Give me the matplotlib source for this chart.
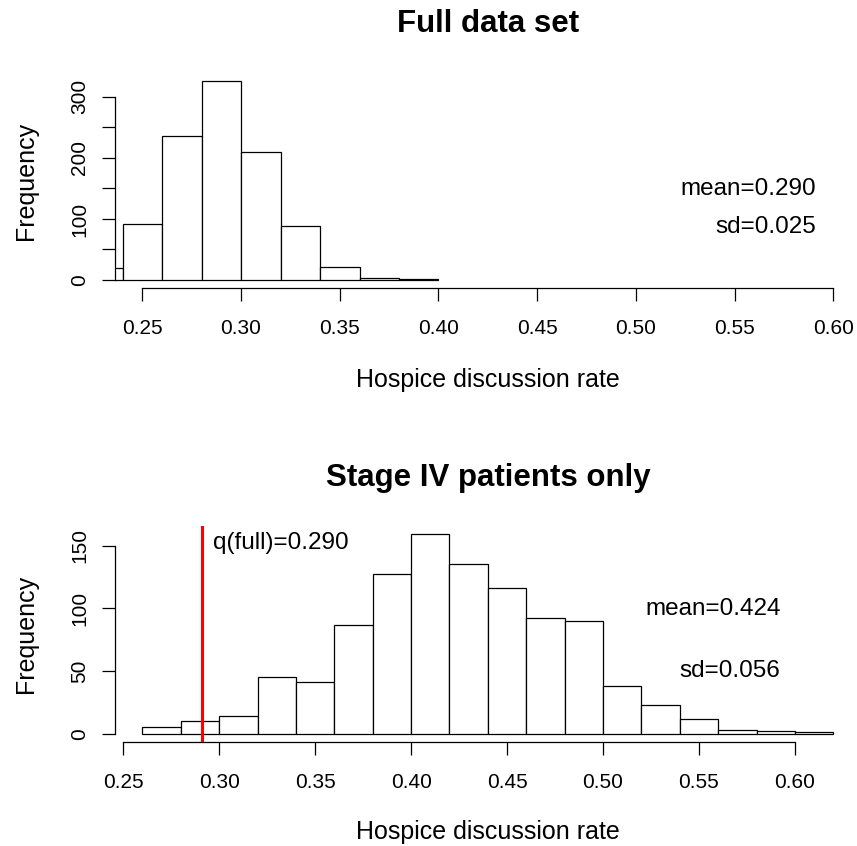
import matplotlib
matplotlib.use("Agg")
import matplotlib.pyplot as plt
import numpy as np

plt.rcParams['font.family'] = ['Liberation Sans', 'DejaVu Sans']

# ---- data ----
full_edges = [0.22, 0.24, 0.26, 0.28, 0.30, 0.32, 0.34, 0.36, 0.38, 0.40]
full_counts = [19, 92, 236, 326, 209, 88, 21, 4, 1]
full_mean = "mean=0.290"
full_sd = "sd=0.025"

stage_edges = [0.26, 0.28, 0.30, 0.32, 0.34, 0.36, 0.38, 0.40, 0.42, 0.44,
               0.46, 0.48, 0.50, 0.52, 0.54, 0.56, 0.58, 0.60, 0.62]
stage_counts = [5, 10, 14, 45, 41, 87, 127, 159, 135, 116, 92, 90, 38, 23, 12, 3, 2, 1]
stage_mean = "mean=0.424"
stage_sd = "sd=0.056"
q_full = 0.291
q_label = "q(full)=0.290"

x_ticks = [0.25, 0.30, 0.35, 0.40, 0.45, 0.50, 0.55, 0.60]
x_ticklabels = ["0.25", "0.30", "0.35", "0.40", "0.45", "0.50", "0.55", "0.60"]

W, H = 857, 846
fig = plt.figure(figsize=(W / 100, H / 100), dpi=100)

FS = 15      # tick labels
FL = 18      # axis labels
FA = 17.5    # annotations
FT = 22.5    # titles
LW = 0.9

def px_box(x0, y0, x1, y1):
    return [x0 / W, 1 - y1 / H, (x1 - x0) / W, (y1 - y0) / H]

def setup(ax, xlim, ylim, yticks, ylabels, ybound):
    ax.set_xlim(*xlim)
    ax.set_ylim(*ylim)
    for s in ['top', 'right']:
        ax.spines[s].set_visible(False)
    ax.spines['left'].set_bounds(*ybound)
    ax.spines['bottom'].set_bounds(0.25, 0.60)
    for s in ['left', 'bottom']:
        ax.spines[s].set_linewidth(LW)
    ax.set_xticks(x_ticks)
    ax.set_xticklabels(x_ticklabels)
    ax.set_yticks(yticks)
    ax.set_yticklabels(ylabels, rotation=90, va='center')
    ax.tick_params(axis='both', direction='out', length=9.5, width=LW,
                   labelsize=FS)
    ax.tick_params(axis='x', pad=13)
    ax.tick_params(axis='y', pad=9)
    ax.patch.set_visible(False)

def hist(ax, edges, counts):
    edges = np.asarray(edges)
    ax.bar(edges[:-1], counts, width=np.diff(edges), align='edge',
           facecolor='white', edgecolor='black', linewidth=LW, zorder=2)

# ---- top panel ----
ax1 = fig.add_axes(px_box(114.7, 72.9, 861, 288))
hist(ax1, full_edges, full_counts)
setup(ax1, (0.236, 0.614), (-13.04, 339.04),
      [0, 50, 100, 150, 200, 250, 300], ["0", "", "100", "", "200", "", "300"], (0, 300))
ax1.text(0.5911, 139.1, full_mean, ha='right', va='baseline', fontsize=FA)
ax1.text(0.5911, 76.4, full_sd, ha='right', va='baseline', fontsize=FA)

# ---- bottom panel ----
ax2 = fig.add_axes(px_box(114.7, 526.4, 861, 741.7))
hist(ax2, stage_edges, stage_counts)
setup(ax2, (0.2456, 0.6344), (-6.36, 165.36),
      [0, 50, 100, 150], ["0", "50", "100", "150"], (0, 150))
ax2.axvline(q_full, color='#ff0000', lw=2.2, zorder=3)
ax2.text(0.2966, 147.4, q_label, ha='left', va='baseline', fontsize=FA)
ax2.text(0.5925, 94.7, stage_mean, ha='right', va='baseline', fontsize=FA)
ax2.text(0.5925, 45.5, stage_sd, ha='right', va='baseline', fontsize=FA)

# ---- titles and axis labels ----
cx = 488 / W
fig.text(cx, 1 - 32.3 / H, "Full data set", ha='center', va='baseline',
         fontsize=FT, fontweight='bold')
fig.text(cx, 1 - 485.8 / H, "Stage IV patients only", ha='center', va='baseline',
         fontsize=FT, fontweight='bold')
fig.text(cx, 1 - 386.7 / H, "Hospice discussion rate", ha='center', va='baseline', fontsize=FL)
fig.text(cx, 1 - 838.5 / H, "Hospice discussion rate", ha='center', va='baseline', fontsize=FL)
fig.text(25.5 / W, 1 - 180.5 / H, "Frequency", ha='center', va='center', rotation=90, fontsize=FL)
fig.text(25.5 / W, 1 - 634 / H, "Frequency", ha='center', va='center', rotation=90, fontsize=FL)

fig.savefig("out.png", dpi=100)
